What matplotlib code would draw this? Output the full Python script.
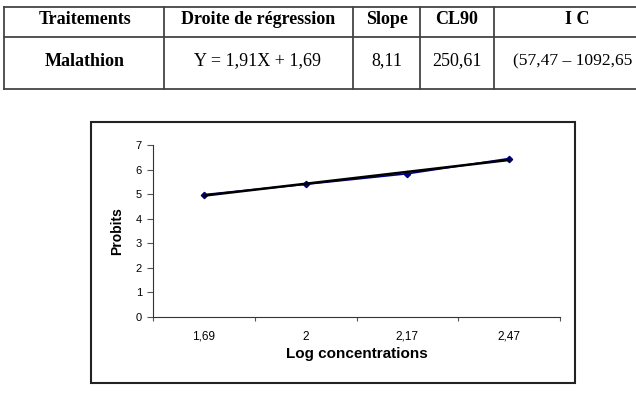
import matplotlib.pyplot as plt
from matplotlib.lines import Line2D
from matplotlib.patches import Rectangle
import numpy as np

# table values
headers = ['Traitements', 'Droite de régression', 'Slope', 'CL90', 'I C']
row = ['Malathion', 'Y = 1,91X + 1,69', '8,11', '250,61', '(57,47 – 1092,65']

# chart values
log_conc = ['1,69', '2', '2,17', '2,47']
probits = [4.98, 5.40, 5.83, 6.45]

W, H = 636, 395


def fx(x):
    return x / W


def fy(y):
    return 1 - y / H


fig = plt.figure(figsize=(W / 100, H / 100), dpi=100)

# table grid
serif = 'Liberation Serif'
for y in [7, 37, 89]:
    fig.add_artist(Line2D([fx(4), 1.0], [fy(y), fy(y)], color='#444444', lw=1.3))
for x in [4, 164, 353, 420, 494]:
    fig.add_artist(Line2D([fx(x), fx(x)], [fy(7), fy(89)], color='#444444', lw=1.3))

centers = [85, 258, 387, 457, 577]
for c, h in zip(centers, headers):
    fig.text(fx(c), fy(19), h, ha='center', va='center', family=serif,
             fontsize=13, fontweight='bold')
for i, (c, v) in enumerate(zip(centers, row)):
    if i == 4:
        # last cell runs past the right edge in the source, only this much shows
        fig.text(fx(513), fy(61), v, ha='left', va='center', family=serif, fontsize=12.6)
    else:
        fig.text(fx(c), fy(61), v, ha='center', va='center', family=serif,
                 fontsize=13, fontweight='bold' if i == 0 else 'normal')

# chart frame
fig.add_artist(Rectangle((fx(91), fy(383)), fx(575 - 91), (383 - 122) / H,
                         fill=False, edgecolor='#222222', lw=1.5,
                         transform=fig.transFigure))

sans = 'Liberation Sans'
ax = fig.add_axes([fx(153), fy(317), fx(560 - 153), (317 - 145) / H])
xs = np.arange(len(probits)) + 0.5
ax.plot(xs, probits, color='#000080', marker='D', markersize=3.2, lw=1.2)
k, b = np.polyfit(xs, probits, 1)
ax.plot(xs, k * xs + b, color='black', lw=1.8)

ax.set_xlim(0, len(probits))
ax.set_ylim(0, 7)
ax.set_yticks(range(8))
ax.set_xticks(range(len(probits) + 1))
ax.set_xticklabels([])
ax.set_xticks(xs, minor=True)
ax.set_xticklabels(log_conc, minor=True, family=sans)
ax.set_yticklabels([str(v) for v in range(8)], family=sans)
ax.tick_params(axis='x', which='minor', length=0, pad=10, labelsize=8.5)
ax.tick_params(axis='x', which='major', length=3, color='#555555')
ax.tick_params(axis='y', length=4, color='#555555', labelsize=8, pad=4)
for s in ['top', 'right']:
    ax.spines[s].set_visible(False)
for s in ['left', 'bottom']:
    ax.spines[s].set_color('#333333')
ax.set_xlabel('Log concentrations', family=sans, fontsize=11, fontweight='bold', labelpad=3)
ax.set_ylabel('Probits', family=sans, fontsize=10, fontweight='bold', labelpad=8)

fig.savefig('out.png', dpi=100)
